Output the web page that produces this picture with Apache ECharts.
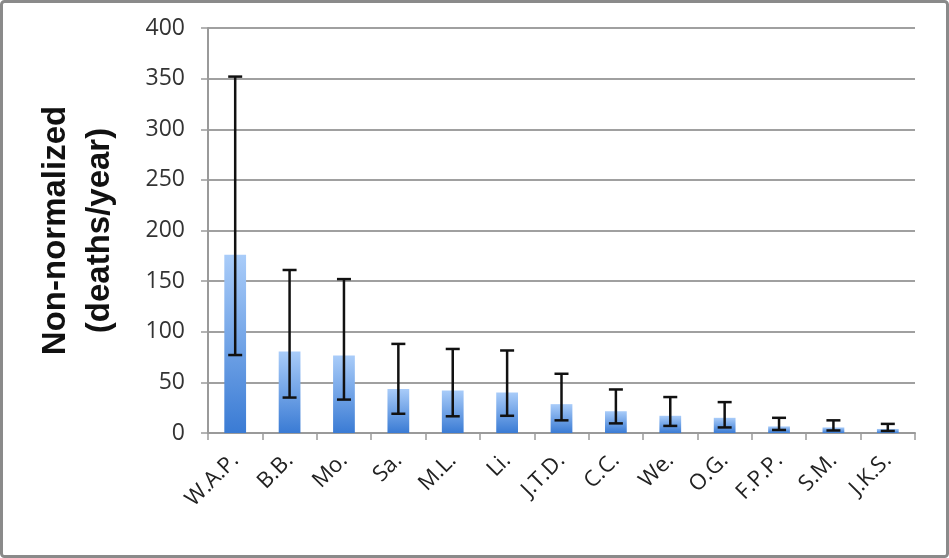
<!DOCTYPE html>
<html>
<head>
<meta charset="utf-8">
<script src="https://cdn.jsdelivr.net/npm/echarts@6/dist/echarts.min.js"></script>
<style>
html,body{margin:0;padding:0;background:#fff;}
#chart{width:949px;height:558px;}
</style>
</head>
<body>
<div id="chart"></div>
<script>
const categories = ['W.A.P.', 'B.B.', 'Mo.', 'Sa.', 'M.L.', 'Li.', 'J.T.D.', 'C.C.', 'We.', 'O.G.', 'F.P.P.', 'S.M.', 'J.K.S.'];
const values = [176, 80.5, 76.5, 43.5, 42, 40, 28.5, 21.5, 17, 15, 6.5, 5.5, 4];
const errLow = [77, 35, 33, 19, 16.5, 17, 12.5, 9.5, 7, 5.5, 3, 2.5, 2];
const errHigh = [352, 161, 152, 88, 83, 81.5, 58.5, 43, 35.5, 30.5, 15, 12.5, 9];
const yTicks = [0, 50, 100, 150, 200, 250, 300, 350, 400];

const chart = echarts.init(document.getElementById('chart'), null, {renderer: 'canvas'});
const errData = categories.map((c, i) => [i, errLow[i], errHigh[i]]);
const font = 'Open Sans, Liberation Sans, sans-serif';

chart.setOption({
  animation: false,
  backgroundColor: '#ffffff',
  graphic: [{
    type: 'rect',
    shape: {x: 1.5, y: 1.5, width: 946, height: 555, r: 3},
    style: {fill: 'none', stroke: '#8a8a8a', lineWidth: 3},
    silent: true
  }],
  grid: {left: 208, right: 34, top: 28, bottom: 125, containLabel: false},
  xAxis: {
    type: 'category',
    data: categories,
    axisLine: {show: true, lineStyle: {color: '#9a9a9a', width: 2}},
    axisTick: {show: true, length: 7, lineStyle: {color: '#9a9a9a', width: 1.5}, alignWithLabel: false},
    axisLabel: {interval: 0, rotate: 45, fontSize: 22, color: '#222', fontFamily: font, margin: 24},
    splitLine: {show: false}
  },
  yAxis: {
    type: 'value',
    min: yTicks[0],
    max: yTicks[yTicks.length - 1],
    interval: 50,
    name: 'Non-normalized\n(deaths/year)',
    nameLocation: 'middle',
    nameRotate: 90,
    nameGap: 86,
    nameTextStyle: {fontSize: 33, fontWeight: 'bold', color: '#111', fontFamily: 'Liberation Sans, sans-serif', lineHeight: 44},
    axisLine: {show: true, lineStyle: {color: '#9a9a9a', width: 2}},
    axisTick: {show: true, length: 7, lineStyle: {color: '#9a9a9a', width: 1.5}},
    axisLabel: {fontSize: 23, color: '#333', fontFamily: font, margin: 23},
    splitLine: {show: true, lineStyle: {color: '#a0a0a0', width: 2}}
  },
  series: [{
    type: 'bar',
    data: values,
    barWidth: '40%',
    itemStyle: {
      color: new echarts.graphic.LinearGradient(0, 0, 0, 1, [
        {offset: 0, color: '#a9ccf9'},
        {offset: 1, color: '#3a7bd4'}
      ])
    },
    z: 2
  }, {
    type: 'custom',
    data: errData,
    z: 3,
    renderItem: function (params, api) {
      const x = api.value(0);
      const lo = api.coord([x, api.value(1)]);
      const hi = api.coord([x, api.value(2)]);
      const cap = 7;
      const st = {stroke: '#111', lineWidth: 2.5};
      return {
        type: 'group',
        children: [
          {type: 'line', shape: {x1: lo[0], y1: lo[1], x2: hi[0], y2: hi[1]}, style: st},
          {type: 'line', shape: {x1: lo[0] - cap, y1: lo[1], x2: lo[0] + cap, y2: lo[1]}, style: st},
          {type: 'line', shape: {x1: hi[0] - cap, y1: hi[1], x2: hi[0] + cap, y2: hi[1]}, style: st}
        ]
      };
    }
  }]
});
</script>
</body>
</html>
